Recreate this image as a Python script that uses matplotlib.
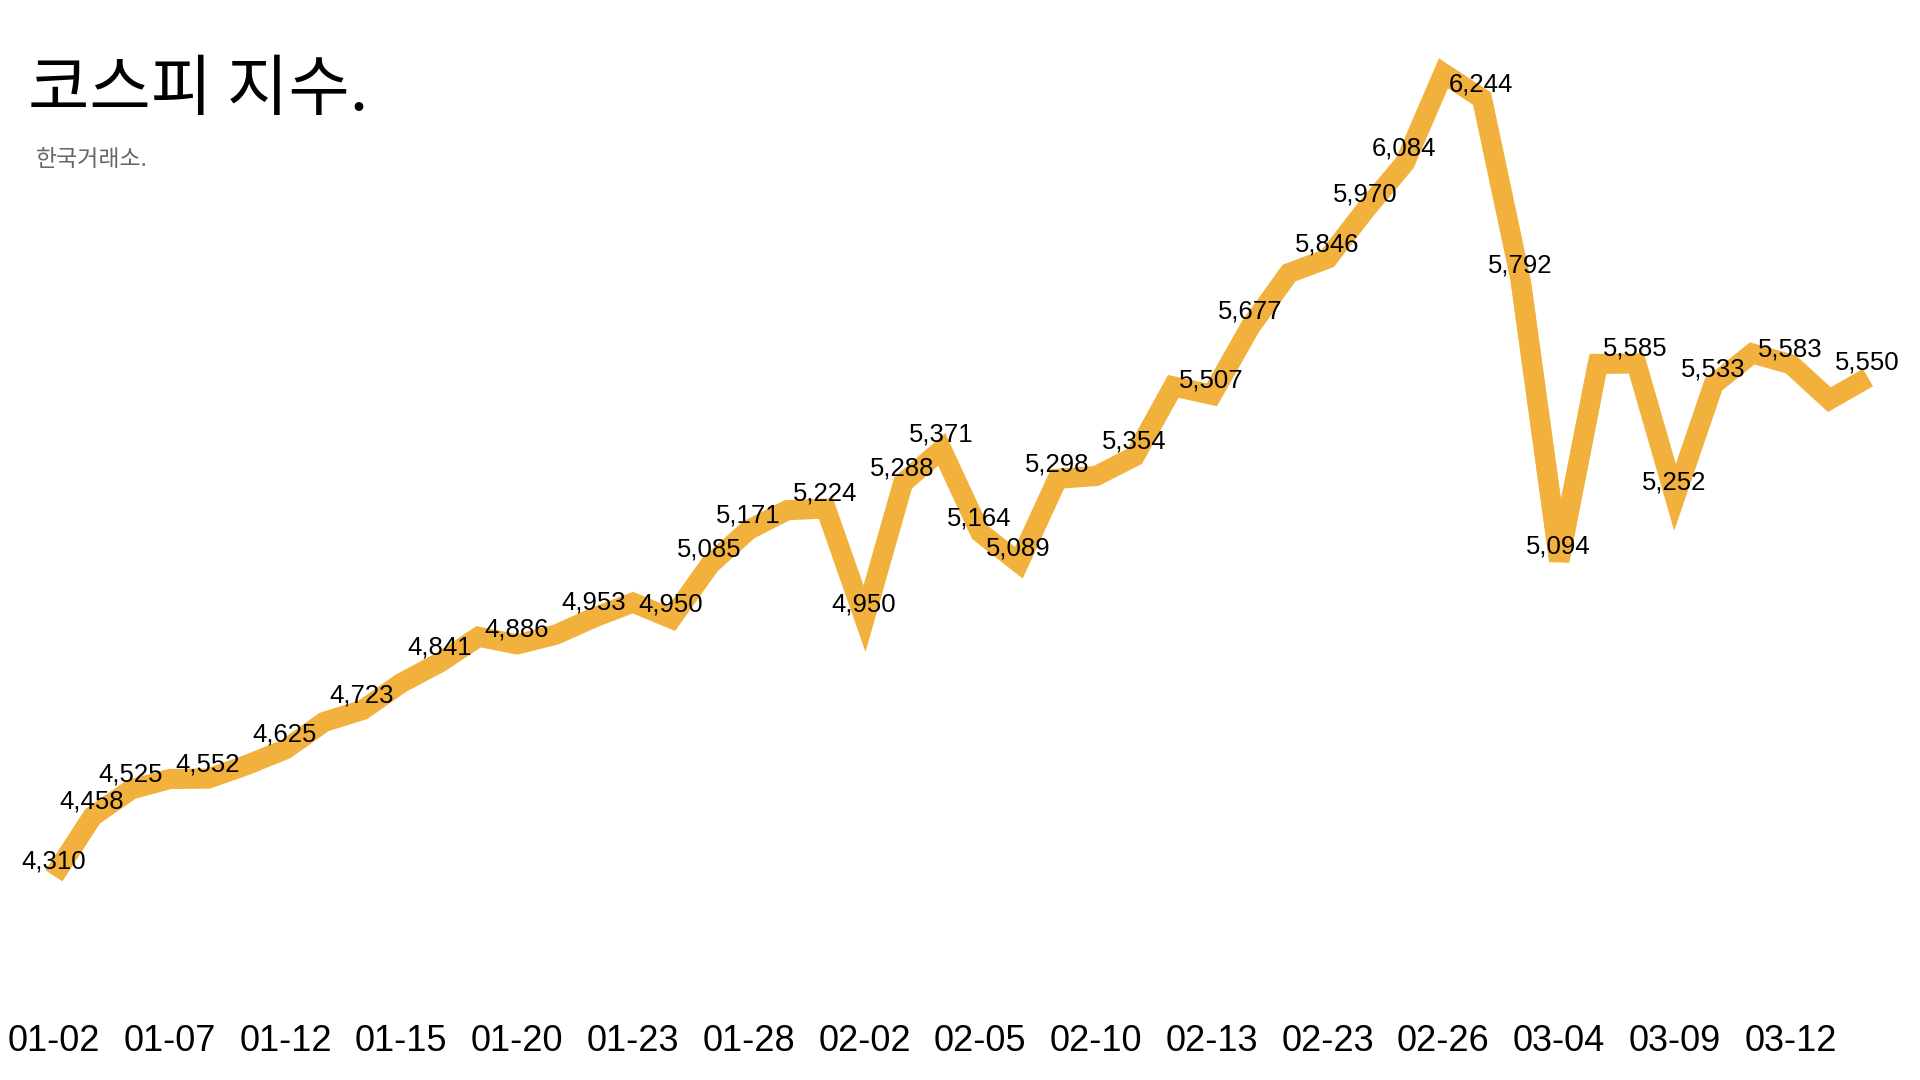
import matplotlib.pyplot as plt

# 코스피 종가 (2026-01-02 ~ 03-16)
dates = ['01-02', '01-05', '01-06', '01-07', '01-08', '01-09', '01-12', '01-13',
         '01-14', '01-15', '01-16', '01-19', '01-20', '01-21', '01-22', '01-23',
         '01-26', '01-27', '01-28', '01-29', '01-30', '02-02', '02-03', '02-04',
         '02-05', '02-06', '02-09', '02-10', '02-11', '02-12', '02-13', '02-19',
         '02-20', '02-23', '02-24', '02-25', '02-26', '02-27', '03-03', '03-04',
         '03-05', '03-06', '03-09', '03-10', '03-11', '03-12', '03-13', '03-16']
values = [4310, 4458, 4525, 4551, 4552, 4586, 4625, 4693,
          4723, 4790, 4841, 4905, 4886, 4910, 4953, 4990,
          4950, 5085, 5171, 5220, 5224, 4950, 5288, 5371,
          5164, 5089, 5298, 5305, 5354, 5528, 5507, 5677,
          5810, 5846, 5970, 6084, 6307, 6244, 5792, 5094,
          5584, 5585, 5252, 5533, 5610, 5583, 5495, 5550]
# points whose value label is shown (the rest are hidden to avoid overlap)
labelled = [0, 1, 2, 4, 6, 8, 10, 12, 14, 16, 17, 18, 20, 21, 22, 23, 24, 25,
            26, 28, 30, 31, 33, 34, 35, 37, 38, 39, 41, 42, 43, 45, 47]
bevel_at = 39  # the 03-04 dip is drawn with a flat (bevel) corner

title = '코스피 지수.'
subtitle = '한국거래소.'
line_color = '#F2B13D'

W, H = 1920, 1080
fig = plt.figure(figsize=(W / 100, H / 100), dpi=100)
fig.patch.set_facecolor('white')

# axes placed in pixel terms: x from 54 to 1868, y from 40 (top) to 1000 (bottom)
ax = fig.add_axes([54 / W, 80 / H, (1868 - 54) / W, 960 / H])
x = list(range(len(values)))
style = dict(color=line_color, lw=14.5, solid_capstyle='butt', clip_on=False)
ax.plot(x[:bevel_at + 1], values[:bevel_at + 1], solid_joinstyle='miter', **style)
ax.plot(x[bevel_at:], values[bevel_at:], solid_joinstyle='miter', **style)
ax.plot(x[bevel_at - 1:bevel_at + 2], values[bevel_at - 1:bevel_at + 2],
        solid_joinstyle='bevel', **style)
ax.set_xlim(0, len(values) - 1)
ax.set_ylim(4001, 6390)

for i in labelled:
    ax.annotate(f'{values[i]:,}', (i, values[i]), xytext=(-0.5, 10.5),
                textcoords='offset points', ha='center', va='center',
                fontsize=18.5, family=['Liberation Sans', 'DejaVu Sans'],
                color='black')

ax.set_xticks(x[::3])
ax.set_xticklabels(dates[::3], fontsize=26, family=['Liberation Sans', 'DejaVu Sans'])
ax.tick_params(axis='x', length=0, pad=17)
ax.set_yticks([])
for s in ax.spines.values():
    s.set_visible(False)

fig.text(28 / W, 1 - 91 / H, title, fontsize=48, family=['Noto Sans CJK KR', 'DejaVu Sans'],
         va='center', ha='left', color='black')
fig.text(36 / W, 1 - 159 / H, subtitle, fontsize=16.5, family=['Noto Sans CJK KR', 'DejaVu Sans'],
         va='center', ha='left', color='#666666')

fig.savefig('out.png', dpi=100, facecolor='white')
